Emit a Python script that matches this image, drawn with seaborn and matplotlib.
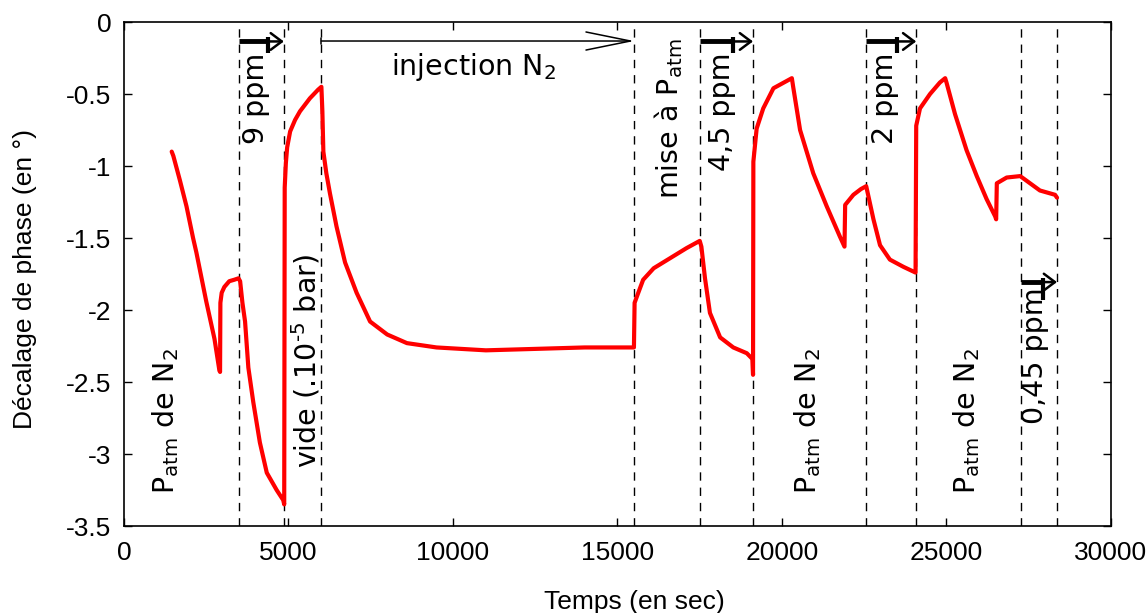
import matplotlib
matplotlib.use("Agg")
import matplotlib.pyplot as plt
import pandas as pd
import seaborn as sns

# phase shift trace (time in s, phase in degrees)
time_s = [
    1450, 1500, 1700, 1900, 2100, 2200, 2500, 2750, 2900, 2920,
    2930, 2970, 3050, 3200, 3350, 3480, 3530, 3600, 3680, 3780,
    3930, 4130, 4340, 4640, 4840, 4870, 4885, 4920, 4960, 5050,
    5200, 5350, 5650, 5900, 6000, 6030, 6060, 6150, 6260, 6460,
    6720, 7070, 7480, 8000, 8600, 9500, 11000, 12500, 14000, 15500,
    15520, 15600, 15780, 16100, 16600, 17100, 17500, 17550, 17660, 17810,
    18120, 18520, 18930, 19100, 19120, 19130, 19230, 19430, 19740, 20140,
    20300, 20340, 20550, 20950, 21360, 21760, 21900, 21920, 22170, 22400,
    22560, 22780, 22980, 23280, 23690, 24060, 24080, 24195, 24500, 24800,
    24960, 25000, 25260, 25610, 25920, 26220, 26480, 26510, 26530, 26830,
    27240, 27540, 27840, 28300, 28360,
]
phase_deg = [
    -0.90, -0.93, -1.10, -1.28, -1.50, -1.60, -1.94, -2.20, -2.42, -2.43,
    -1.95, -1.88, -1.84, -1.80, -1.79, -1.78, -1.80, -1.95, -2.08, -2.40,
    -2.64, -2.92, -3.13, -3.25, -3.32, -3.35, -1.15, -0.98, -0.87, -0.76,
    -0.68, -0.62, -0.53, -0.47, -0.45, -0.62, -0.90, -1.05, -1.19, -1.42,
    -1.67, -1.88, -2.08, -2.17, -2.23, -2.26, -2.28, -2.27, -2.26, -2.26,
    -1.95, -1.90, -1.79, -1.71, -1.64, -1.57, -1.52, -1.56, -1.78, -2.02,
    -2.19, -2.26, -2.30, -2.34, -2.45, -0.97, -0.74, -0.60, -0.46, -0.41,
    -0.39, -0.45, -0.75, -1.05, -1.28, -1.49, -1.56, -1.27, -1.20, -1.16,
    -1.14, -1.37, -1.55, -1.65, -1.70, -1.74, -0.72, -0.60, -0.50, -0.42,
    -0.39, -0.42, -0.64, -0.89, -1.07, -1.23, -1.35, -1.37, -1.12, -1.08,
    -1.07, -1.12, -1.17, -1.20, -1.22,
]

# instants where the gas conditions change
event_times = [3500, 4860, 6000, 15510, 17520, 19120, 22560, 24080, 27250, 28360]

xticks = [0, 5000, 10000, 15000, 20000, 25000, 30000]
yticks = [0, -0.5, -1, -1.5, -2, -2.5, -3, -3.5]
ytick_labels = ["0", "-0.5", "-1", "-1.5", "-2", "-2.5", "-3", "-3.5"]

# rotated labels: text, x, y, vertical anchor
labels = [
    (r"P$_{\mathregular{atm}}$ de N$_2$", 1250, -3.28, "bottom"),
    ("9 ppm", 4010, -0.215, "top"),
    ("vide (.10$^{\\mathregular{\u20105}}$ bar)", 5520, -3.10, "bottom"),
    (r"mise à P$_{\mathregular{atm}}$", 16560, -0.11, "top"),
    ("4,5 ppm", 18170, -0.215, "top"),
    (r"P$_{\mathregular{atm}}$ de N$_2$", 20790, -3.28, "bottom"),
    ("2 ppm", 23130, -0.215, "top"),
    (r"P$_{\mathregular{atm}}$ de N$_2$", 25620, -3.28, "bottom"),
    ("0,45 ppm", 27690, -1.84, "top"),
]

# concentration arrows: start, bar, end, height, bar bottom
ppm_arrows = [
    (3500, 4377, 4860, -0.135, -0.215),
    (17520, 18510, 19120, -0.135, -0.215),
    (22560, 23485, 24080, -0.135, -0.215),
    (27250, 27930, 28360, -1.806, -1.93),
]

sns.set_theme(style="ticks")
plt.rcParams["font.family"] = ["Liberation Sans", "DejaVu Sans"]
plt.rcParams["mathtext.fontset"] = "dejavusans"
plt.rcParams["text.color"] = "black"
plt.rcParams["axes.labelcolor"] = "black"

fig = plt.figure(figsize=(11.47, 6.13), dpi=100)
ax = fig.add_axes([0.1081, 0.1419, 0.8605, 0.8222])

frame = pd.DataFrame({"time": time_s, "phase": phase_deg})
sns.lineplot(data=frame, x="time", y="phase", sort=False, estimator=None,
             color="#ff0000", lw=3.0, ax=ax)

for t in event_times:
    ax.axvline(t, color="black", lw=1.0, ls=(0, (6, 5)), zorder=1)

for text, x, y, va in labels:
    ax.text(x, y, text, rotation=90, ha="center", va=va, fontsize=20.5,
            family="DejaVu Sans", color="black")

# injection arrow with a small tail bar
ax.text(10610, -0.31, r"injection N$_2$", ha="center", va="center",
        fontsize=20.5, family="DejaVu Sans", color="black")
ax.annotate("", xy=(15510, -0.132), xytext=(6000, -0.132),
            arrowprops=dict(arrowstyle="->,head_length=3.2,head_width=0.65",
                            lw=1.1, color="black", shrinkA=0, shrinkB=0,
                            mutation_scale=10))
ax.plot([6000, 6000], [-0.11, -0.155], color="black", lw=1.1)

for x0, xb, x1, y, yb in ppm_arrows:
    ax.plot([x0, xb], [y, y], color="black", lw=3.5, solid_capstyle="butt")
    ax.plot([xb, xb], [y + 0.03, yb], color="black", lw=3.0, solid_capstyle="butt")
    ax.annotate("", xy=(x1, y), xytext=(xb, y),
                arrowprops=dict(arrowstyle="->,head_length=0.8,head_width=0.6",
                                lw=1.8, color="black", shrinkA=0, shrinkB=0,
                                mutation_scale=10))

ax.set_xlim(0, 30000)
ax.set_ylim(-3.5, 0)
ax.set_xticks(xticks)
ax.set_xticklabels([str(v) for v in xticks])
ax.set_yticks(yticks)
ax.set_yticklabels(ytick_labels)
ax.tick_params(direction="in", top=True, right=True, length=6, width=1,
               labelsize=19, colors="black")
ax.tick_params(axis="x", pad=11)
ax.tick_params(axis="y", pad=9)
for spine in ax.spines.values():
    spine.set_visible(True)
    spine.set_color("black")
    spine.set_linewidth(1.2)

ax.set_xlabel("Temps (en sec)", fontsize=19)
ax.set_ylabel("Décalage de phase (en °)", fontsize=19)
ax.xaxis.set_label_coords(0.517, -0.127)
ax.yaxis.set_label_coords(-0.1, 0.49)
ax.yaxis.label.set_va("center")
ax.grid(False)

fig.savefig("out.png", dpi=100, facecolor="white")
